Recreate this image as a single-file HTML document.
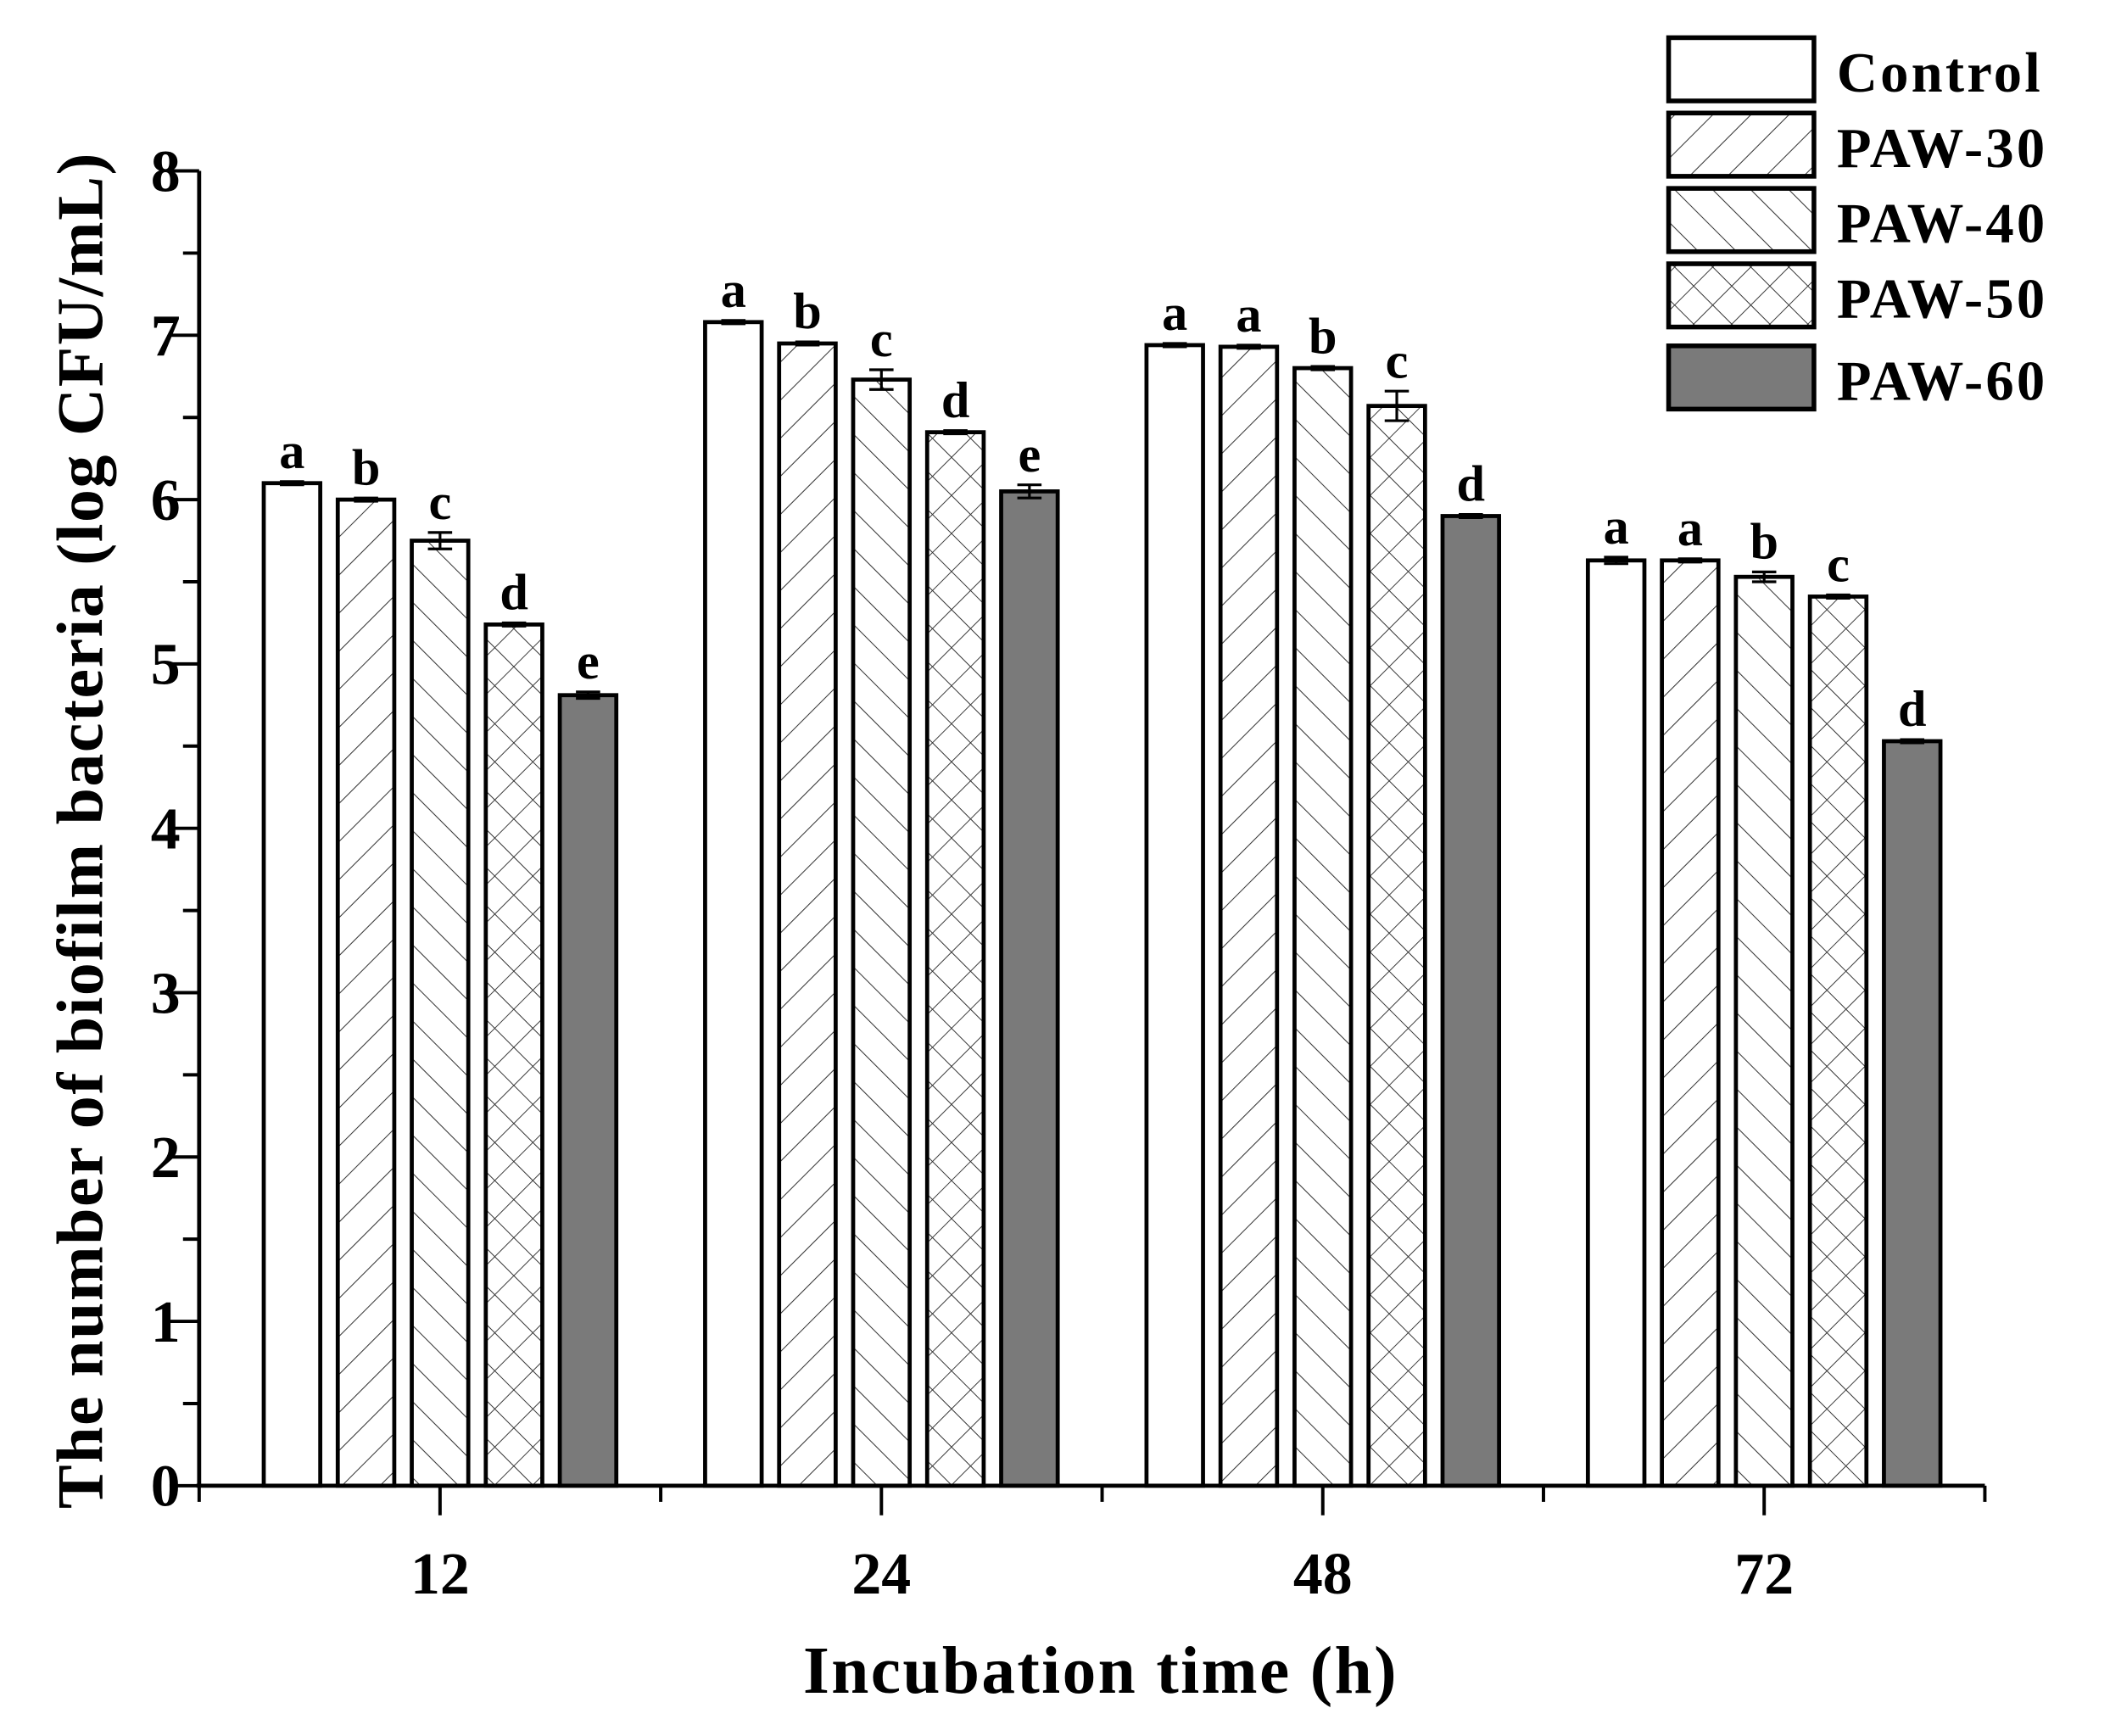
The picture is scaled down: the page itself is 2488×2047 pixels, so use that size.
<!DOCTYPE html>
<html><head><meta charset="utf-8"><style>html,body{margin:0;padding:0;background:#fff}svg{display:block}text{font-family:"Liberation Serif",serif;font-weight:bold;fill:#000}</style></head>
<body>
<svg width="2488" height="2047" viewBox="0 0 1568 1290" preserveAspectRatio="none" xmlns="http://www.w3.org/2000/svg">
<defs>
<pattern id="p30" patternUnits="userSpaceOnUse" width="20" height="20" patternTransform="rotate(45)"><line x1="0" y1="0" x2="0" y2="20" stroke="#333" stroke-width="1.3"/></pattern>
<pattern id="p40" patternUnits="userSpaceOnUse" width="20" height="20" patternTransform="rotate(-45)"><line x1="0" y1="0" x2="0" y2="20" stroke="#333" stroke-width="1.3"/></pattern>
<pattern id="p50" patternUnits="userSpaceOnUse" width="20" height="20" patternTransform="rotate(45)"><line x1="0" y1="0" x2="0" y2="20" stroke="#333" stroke-width="1.2"/><line x1="0" y1="0" x2="20" y2="0" stroke="#333" stroke-width="1.2"/></pattern>
</defs>
<g id="plot"></g>
</svg>
<script>
const categories = ["12","24","48","72"];
const seriesNames = ["Control","PAW-30","PAW-40","PAW-50","PAW-60"];
const valsControl = [6.10,7.08,6.94,5.63];
const valsPAW30 = [6.00,6.95,6.93,5.63];
const valsPAW40 = [5.75,6.73,6.80,5.53];
const valsPAW50 = [5.24,6.41,6.57,5.41];
const valsPAW60 = [4.81,6.05,5.90,4.53];
const errControl = [0.01,0.01,0.01,0.02];
const errPAW30 = [0.01,0.01,0.01,0.01];
const errPAW40 = [0.05,0.06,0.01,0.03];
const errPAW50 = [0.01,0.01,0.09,0.01];
const errPAW60 = [0.02,0.04,0.01,0.01];
const letters12 = ["a","b","c","d","e"];
const letters24 = ["a","b","c","d","e"];
const letters48 = ["a","a","b","c","d"];
const letters72 = ["a","a","b","c","d"];
const yTicks = [0,1,2,3,4,5,6,7,8];

const NS="http://www.w3.org/2000/svg";
const g=document.getElementById('plot');
const x0=148,x1=1475,yb=1104,yt=127;
const y=v=>yb-(v/8)*(yb-yt);
const xc=i=>327+328*i;
const barW=42, step=55;
const fills=["#fff","url(#p30)","url(#p40)","url(#p50)","#7a7a7a"];
const vals=[valsControl,valsPAW30,valsPAW40,valsPAW50,valsPAW60];
const errs=[errControl,errPAW30,errPAW40,errPAW50,errPAW60];
const letters=[letters12,letters24,letters48,letters72];
function mk(t,a,txt){const e=document.createElementNS(NS,t);for(const k in a)e.setAttribute(k,a[k]);if(txt!==undefined)e.textContent=txt;g.appendChild(e);return e;}

categories.forEach((c,i)=>{
  vals.forEach((sv,s)=>{
    const v=sv[i], bx=xc(i)+(s-2)*step-barW/2;
    const r=mk('rect',{x:bx,y:y(v),width:barW,height:yb-y(v),fill:fills[s],stroke:'#000','stroke-width':3});
    
    
    const e=errs[s][i], cx=bx+barW/2;
    const eb=mk('path',{d:`M${cx-9},${y(v+e)}H${cx+9}M${cx},${y(v+e)}V${y(v-e)}M${cx-9},${y(v-e)}H${cx+9}`,stroke:'#000','stroke-width':2,fill:'none'});
    
    
    const t=mk('text',{x:cx,y:y(v+e)-10,'text-anchor':'middle','font-size':38},letters[i][s]);
    
    
  });
  const tk=mk('line',{x1:xc(i),x2:xc(i),y1:yb,y2:yb+22,stroke:'#000','stroke-width':2.5});
  
  
  const tl=mk('text',{x:xc(i),y:yb+80,'text-anchor':'middle','font-size':44},c);
  
  
});
for(let i=0;i<=categories.length;i++){
  const mx=i===0?x0:(i===categories.length?x1:(xc(i-1)+xc(i))/2);
  const m=mk('line',{x1:mx,x2:mx,y1:yb,y2:yb+12,stroke:'#000','stroke-width':2.5});
  
  
}
yTicks.forEach(v=>{
  const l=mk('line',{x1:x0-22,x2:x0,y1:y(v),y2:y(v),stroke:'#000','stroke-width':2.5});
  
  
  const t=mk('text',{x:x0-14,y:y(v)+15,'text-anchor':'end','font-size':44},String(v));
  
  
  if(v<8){const m=mk('line',{x1:x0-12,x2:x0,y1:y(v+0.5),y2:y(v+0.5),stroke:'#000','stroke-width':2.5});
  
  }
});
const ya=mk('line',{x1:x0,x2:x0,y1:yt,y2:yb,stroke:'#000','stroke-width':3});


const xa=mk('line',{x1:x0-2,x2:x1,y1:yb,y2:yb,stroke:'#000','stroke-width':3});


const xt=mk('text',{x:818,y:1258,'text-anchor':'middle','font-size':50,'letter-spacing':1.5},'Incubation time (h)');


const yT=mk('text',{x:0,y:0,'text-anchor':'middle','font-size':49,'letter-spacing':1,transform:'translate(76,617) rotate(-90)'},'The number of biofilm bacteria (log CFU/mL)');


const legY=[28,84,140,196,257];
seriesNames.forEach((n,s)=>{
  const r=mk('rect',{x:1240,y:legY[s],width:108,height:47,fill:fills[s],stroke:'#000','stroke-width':3.5});
  
  
  const t=mk('text',{x:1365,y:legY[s]+40,'font-size':42,'letter-spacing':2},n);
  
  
});
</script>
</body></html>
